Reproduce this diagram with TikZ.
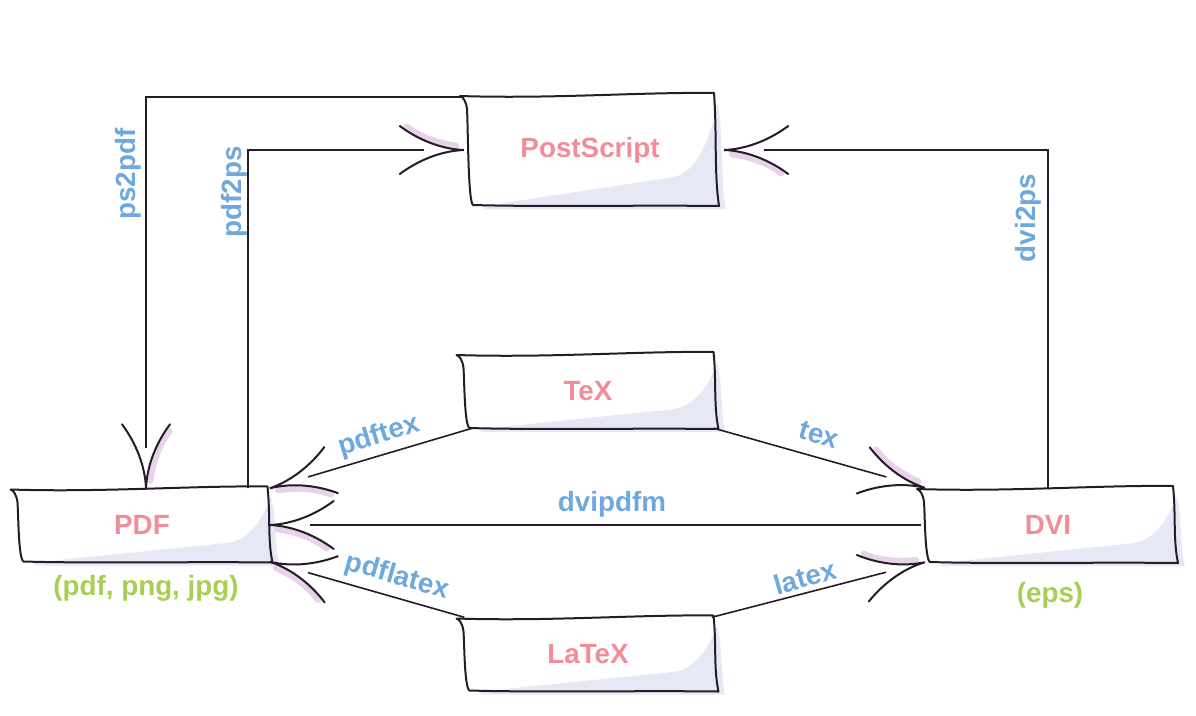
\documentclass[tikz,border=0pt]{standalone}
\usepackage{fontspec}
\setmainfont{Liberation Sans}
\usetikzlibrary{decorations.markings,backgrounds,calc}
\definecolor{ink}{RGB}{38,28,40}
\definecolor{pinktxt}{RGB}{242,140,152}
\definecolor{bluetxt}{RGB}{111,168,220}
\definecolor{greentxt}{RGB}{168,206,84}
\definecolor{boxshc}{RGB}{230,232,245}
\definecolor{tipshc}{RGB}{232,210,234}
\newcommand\harrowdraw{%
  \draw[tipshade] (-8,-4) .. controls (-25,-6) and (-45,-13) .. (-57,-23);
  \draw[tipline] (-64,-24) .. controls (-48,-12) and (-25,-1) .. (0,0)
                 .. controls (-25,1) and (-48,12) .. (-64,24);
}
\newcommand\sketchframe[3]{%
  \begin{scope}[shift={(#1.center)}]
    \pgfmathsetmacro\hw{#2}\pgfmathsetmacro\hh{#3}
    \begin{scope}[on background layer]
      \fill[boxshc] (-\hw+20,\hh+1) -- (\hw-45,0.5*\hh)
        .. controls (\hw-15,0.45*\hh) and (\hw-2,-0.5*\hh) .. (\hw+1,-\hh+8)
        .. controls (\hw+7,-\hh+20) and (\hw+5,\hh-10) .. (\hw+10,\hh+4)
        -- (-\hw+20,\hh+4) -- cycle;
    \end{scope}
    \draw[frame] (-\hw-4,-\hh+1)
      .. controls (-0.3*\hw,-\hh+4) and (0.4*\hw,-\hh-3) .. (\hw-2,-\hh-2)
      .. controls (\hw+1,-0.3*\hh) and (\hw-2,0.4*\hh) .. (\hw+3,\hh+1)
      .. controls (0.4*\hw,\hh) and (-0.4*\hw,\hh+2) .. (-\hw+9,\hh)
      .. controls (-\hw+4,\hh-3) and (-\hw+4,-\hh+30) .. (-\hw+3,-\hh+14)
      .. controls (-\hw+2,-\hh+6) and (-\hw-1,-\hh+2) .. (-\hw-4,-\hh+1);
  \end{scope}}
\tikzset{
  bigfont/.style={font=\fontsize{27.8}{30}\selectfont\bfseries},
  boxnode/.style={bigfont, inner sep=0pt, text=pinktxt},
  lbl/.style={bigfont, inner sep=0pt, text=bluetxt},
  note/.style={bigfont, inner sep=0pt, text=greentxt},
  frame/.style={draw=ink, line width=2pt, line join=round, line cap=round},
  tipline/.style={draw=ink, line width=2pt, line cap=round, shorten >=0pt, shorten <=0pt},
  tipshade/.style={draw=tipshc, line width=7pt, line cap=round, shorten >=0pt, shorten <=0pt},
  conn/.style={draw=ink, line width=1.6pt, shorten >=40pt,
    postaction={decorate, decoration={markings, mark=at position 1 with {\harrowdraw}}}},
}
\begin{document}
\begin{tikzpicture}[x=1pt,y=-1pt]
  \useasboundingbox (0,0) rectangle (1196,715);
  % boxes
  \node[boxnode, minimum width=252pt, minimum height=110pt] (ps) at (590,150) {PostScript};
  \node[boxnode, minimum width=255pt, minimum height=74pt] (tex) at (588,391) {TeX};
  \node[boxnode, minimum width=255pt, minimum height=73pt] (latex) at (588,654) {LaTeX};
  \node[boxnode, minimum width=255pt, minimum height=73pt] (pdf) at (142,525) {PDF};
  \node[boxnode, minimum width=254pt, minimum height=74pt] (dvi) at (1048,525) {DVI};
  \sketchframe{ps}{126}{55}
  \sketchframe{tex}{127.5}{37}
  \sketchframe{latex}{127.5}{36.5}
  \sketchframe{pdf}{127.5}{36.5}
  \sketchframe{dvi}{127}{37}
  % notes
  \node[note] (pdfnote) at (146,588) {(pdf, png, jpg)};
  \node[note] (dvinote) at (1050,595) {(eps)};
  % connectors
  \draw[conn] ([yshift=-2pt]ps.north west) -| ([xshift=4pt]pdf.north);
  \draw[conn] ([xshift=-22pt]pdf.north east) |- (ps.west);
  \draw[conn] (dvi.north) |- ([xshift=8pt]ps.east);
  \draw[conn] ([xshift=12pt]tex.south west) -- (pdf.north east);
  \draw[conn] ([xshift=-2pt]tex.south east) -- ([xshift=4pt]dvi.north west);
  \draw[conn] (dvi.west) -- (pdf.east);
  \draw[conn] ([xshift=4pt]latex.north west) -- (pdf.south east);
  \draw[conn] ([xshift=-4pt]latex.north east) -- ([xshift=4pt]dvi.south west);
  % labels
  \node[lbl, rotate=90] (l1) at (128,174) {ps2pdf};
  \node[lbl, rotate=90] (l2) at (234,192) {pdf2ps};
  \node[lbl, rotate=90] (l3) at (1028,218) {dvi2ps};
  \node[lbl, rotate=17] (l4) at (379,436) {pdftex};
  \node[lbl, rotate=-17] (l5) at (819,435) {tex};
  \node[lbl] (l6) at (612,504) {dvipdfm};
  \node[lbl, rotate=-16] (l7) at (397,577) {pdflatex};
  \node[lbl, rotate=16] (l8) at (805,577) {latex};
\end{tikzpicture}
\end{document}
